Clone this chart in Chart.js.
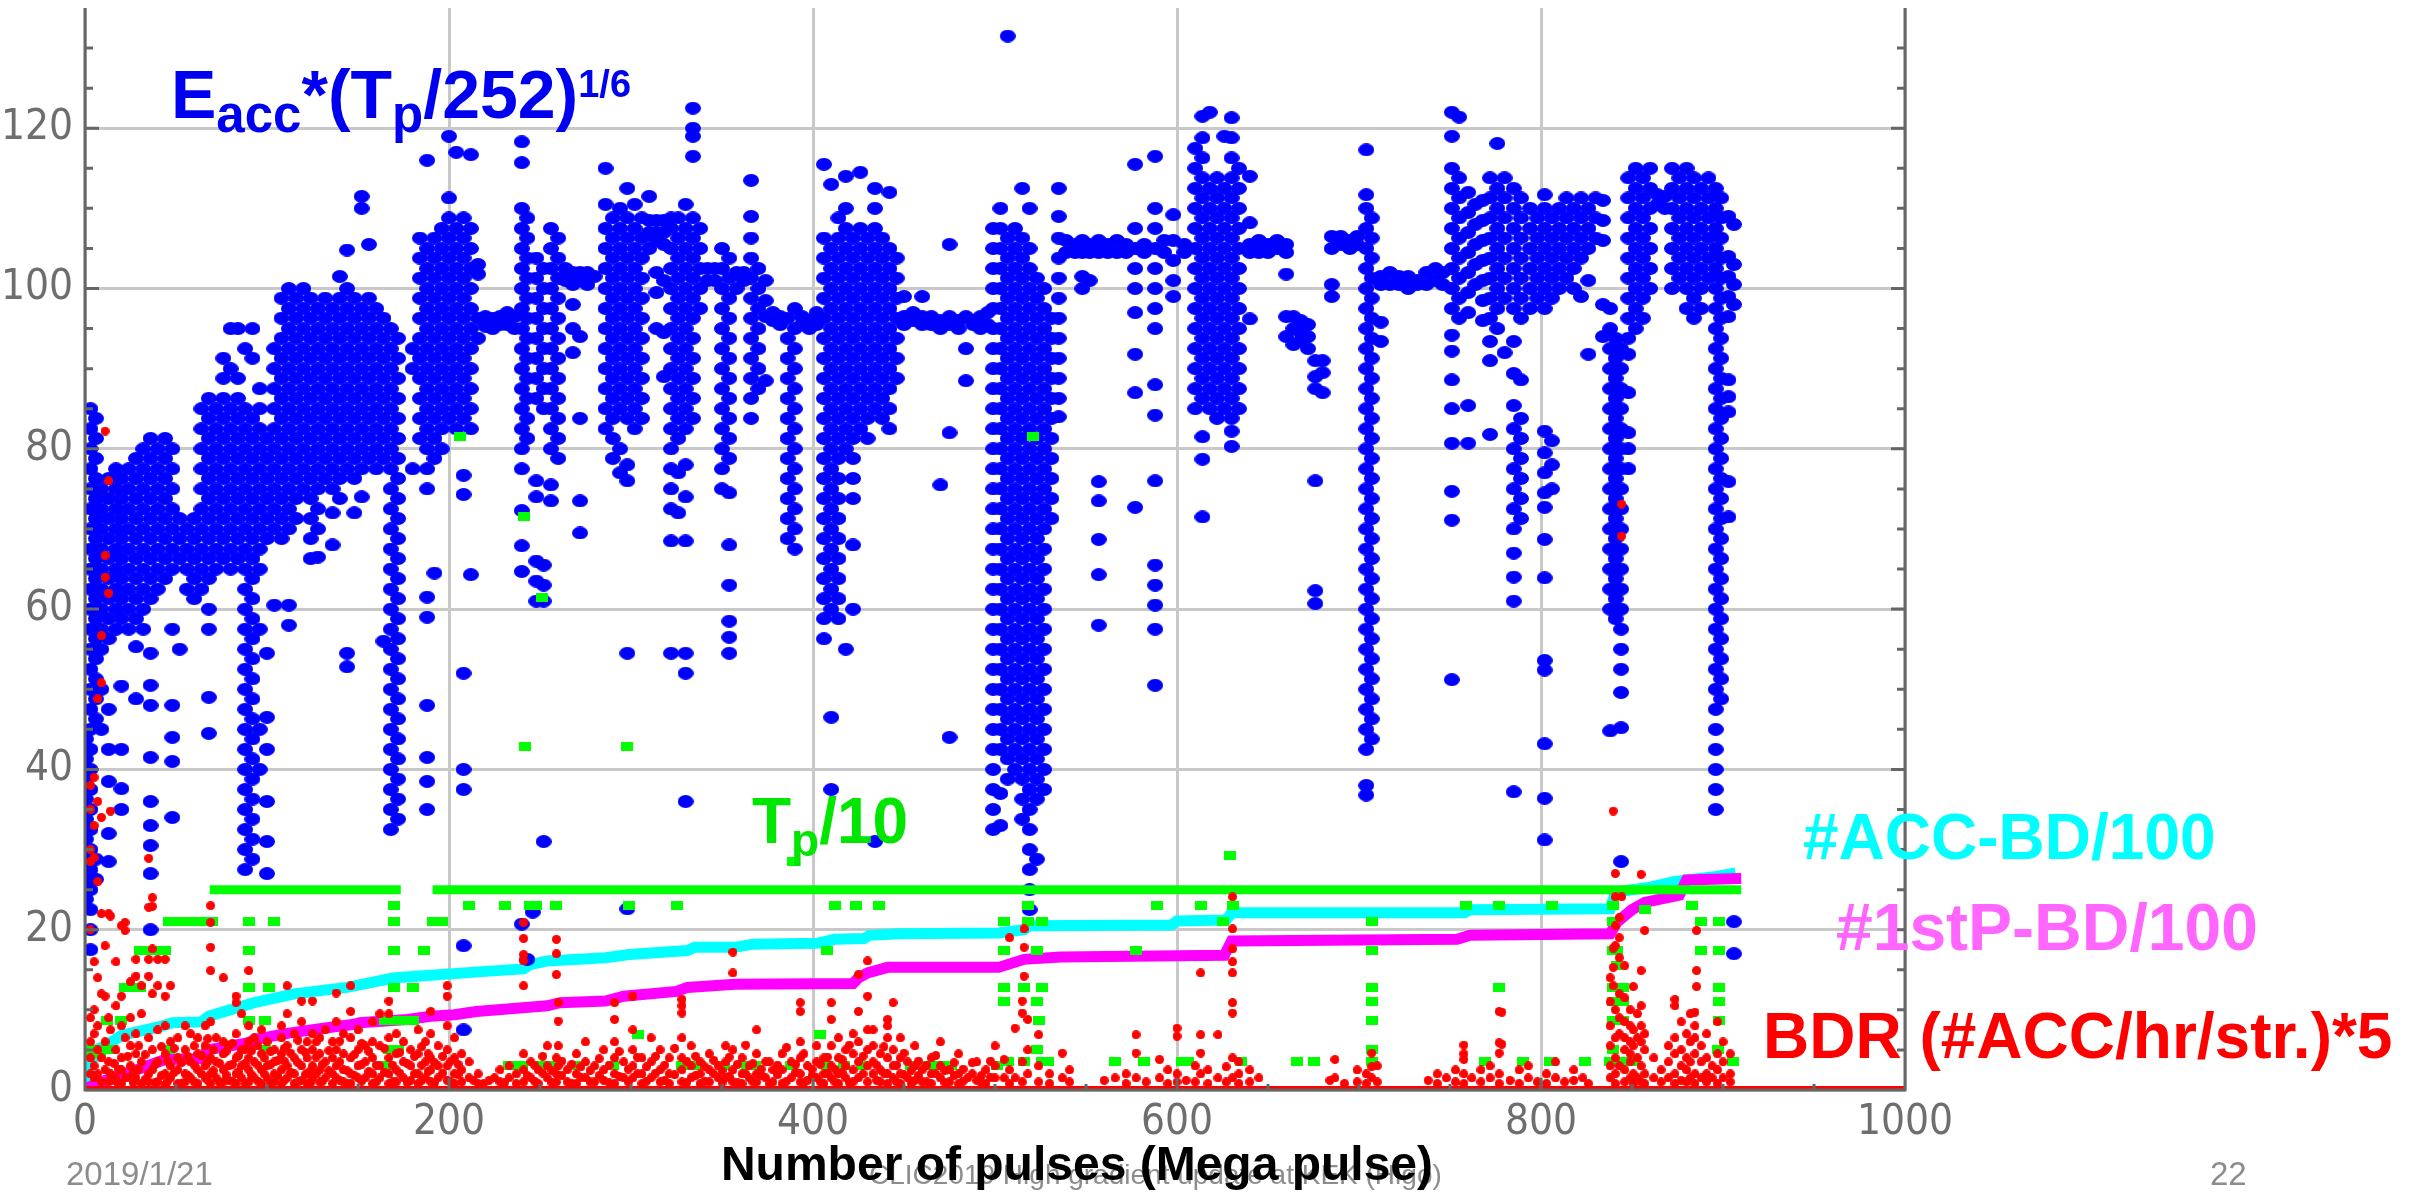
<!DOCTYPE html>
<html>
<head>
<meta charset="utf-8">
<script src="https://cdn.jsdelivr.net/npm/chart.js@4.4.1/dist/chart.umd.min.js"></script>
<style>
  html, body { margin: 0; padding: 0; background: #fff; overflow: hidden; }
</style>
</head>
<body>
<canvas id="myChart" width="2412" height="1192"></canvas>
<script>
// Eacc*(Tp/252)^1/6 : columns of [x, y, y, ...]
const eaccCols1 = [
  [0.5, 43.8, 41.3, 38.8, 36.3, 33.8, 31.3, 28.8, 26.3, 23.8],
  [3, 85, 82.5, 80, 77.5, 75, 72.5, 70, 67.5, 65, 62.5, 60, 57.5, 55, 52.5, 50, 47.5, 45, 42.5, 40, 37.5, 35, 32.5, 30, 27.5, 25, 22.5, 20, 17.5],
  [6, 83.8, 81.3, 78.8, 76.3, 73.8, 71.3, 68.8, 66.3, 63.8, 61.3, 58.8, 56.3, 53.8, 51.3, 48.8, 46.3, 28.8, 26.3],
  [9, 75, 72.5, 70, 67.5, 65, 62.5, 60, 57.5, 55, 50, 45],
  [13, 76.3, 73.8, 71.3, 68.8, 66.3, 63.8, 61.3, 58.8, 56.3, 47.5, 42.5, 38.5, 32, 28.5],
  [17, 77.5, 75, 72.5, 70, 67.5, 65, 62.5, 60, 57.5],
  [20, 76.3, 73.8, 71.3, 68.8, 66.3, 63.8, 61.3, 58.8, 50.4, 42.5, 37.6, 35],
  [24, 77.5, 75, 72.5, 70, 67.5, 65, 62.5, 60, 57.5],
  [28, 78.8, 76.3, 73.8, 71.3, 68.8, 66.3, 63.8, 61.3, 58.8, 55.3, 48.8],
  [32, 80, 77.5, 75, 72.5, 70, 67.5, 65, 62.5, 60, 57.5],
  [36, 81.3, 78.8, 76.3, 73.8, 71.3, 68.8, 66.3, 63.8, 61.3, 54.5, 50.5, 48, 41.5, 36, 33, 30.5, 27, 20],
  [40, 80, 77.5, 75, 72.5, 70, 67.5, 65, 62.5],
  [44, 81.3, 78.8, 76.3, 73.8, 71.3, 68.8, 66.3, 63.8],
  [48, 80, 77.5, 75, 72.5, 70, 67.5, 65, 57.5, 48, 44, 41, 34],
  [52, 71.3, 68.8, 66.3, 55],
  [56, 70, 67.5, 65, 62.5],
  [60, 71.3, 68.8, 66.3, 63.8, 61.3],
  [64, 85, 82.5, 80, 77.5, 75, 72.5, 70, 67.5, 65, 62.5],
  [68, 86.3, 83.8, 81.3, 78.8, 76.3, 73.8, 71.3, 68.8, 66.3, 63.8, 60, 57.5, 49, 44.5],
  [72, 85, 82.5, 80, 77.5, 75, 72.5, 70, 67.5, 65],
  [76, 91.3, 88.8, 86.3, 83.8, 81.3, 78.8, 76.3, 73.8, 71.3, 68.8, 66.3],
  [80, 95, 90, 85, 82.5, 80, 77.5, 75, 72.5, 70, 67.5, 65],
  [84, 95, 88.8, 86.3, 83.8, 81.3, 78.8, 76.3, 73.8, 71.3, 68.8, 66.3],
  [88, 92.5, 85, 82.5, 80, 77.5, 75, 72.5, 70, 67.5, 65, 62.5, 60, 57.5, 55, 52.5, 50, 47.5, 45, 42.5, 40, 37.5, 35, 32.5, 30, 27.5],
  [92, 95, 91.3, 83.8, 81.3, 78.8, 76.3, 73.8, 71.3, 68.8, 66.3, 63.8, 61.3, 58.8, 56.3, 53.8, 51.3, 48.8, 46.3, 43.8, 41.3, 38.8, 36.3, 33.8, 31.3, 28.8],
  [96, 87.5, 85, 82.5, 80, 77.5, 75, 72.5, 70, 67.5, 65, 57.5, 45, 40],
  [100, 81.3, 78.8, 76.3, 73.8, 71.3, 68.8, 54.5, 46.5, 42.5, 36, 31, 27],
  [104, 92.5, 90, 87.5, 85, 82.5, 80, 77.5, 75, 72.5, 70, 60.5],
  [108, 98.8, 96.3, 93.8, 91.3, 88.8, 86.3, 83.8, 81.3, 78.8, 76.3, 73.8, 71.3, 68.8],
  [112, 100, 97.5, 95, 92.5, 90, 87.5, 85, 82.5, 80, 77.5, 75, 72.5, 70, 60.5, 58],
  [116, 98.8, 96.3, 93.8, 91.3, 88.8, 86.3, 83.8, 81.3, 78.8, 76.3, 73.8, 71.3],
  [120, 100, 97.5, 95, 92.5, 90, 87.5, 85, 82.5, 80, 77.5, 75],
  [124, 98.8, 96.3, 93.8, 91.3, 88.8, 86.3, 83.8, 81.3, 78.8, 76.3, 73.8, 71.3, 68.8, 66.3],
  [128, 97.5, 95, 92.5, 90, 87.5, 85, 82.5, 80, 77.5, 75, 72.5, 70, 66.5],
  [132, 98.8, 96.3, 93.8, 91.3, 88.8, 86.3, 83.8, 81.3, 78.8, 76.3],
  [136, 97.5, 95, 92.5, 90, 87.5, 85, 82.5, 80, 77.5, 75, 72, 68],
  [140, 101.5, 98.8, 96.3, 93.8, 91.3, 88.8, 86.3, 83.8, 81.3, 78.8, 76.3, 73.8],
  [144, 104.8, 100, 97.5, 95, 92.5, 90, 87.5, 85, 82.5, 80, 77.5, 54.5, 52.8],
  [148, 98.8, 96.3, 93.8, 91.3, 88.8, 86.3, 83.8, 81.3, 78.8, 76.3, 72],
  [152, 111.5, 110, 97.5, 95, 92.5, 90, 87.5, 85, 82.5, 80, 77.5, 74],
  [156, 105.5, 98.8, 96.3, 93.8, 91.3, 88.8, 86.3, 83.8, 81.3, 78.8],
  [160, 97.5, 95, 92.5, 90, 87.5, 85, 82.5, 80, 77.5],
  [164, 96.3, 93.8, 91.3, 88.8, 86.3, 83.8, 81.3, 78.8, 56],
  [168, 95, 92.5, 90, 87.5, 85, 82.5, 80, 77.5, 75, 72.5, 70, 67.5, 65, 62.5, 60, 57.5, 55, 52.5, 50, 47.5, 45, 42.5, 40, 37.5, 35, 32.5],
  [172, 93.8, 91.3, 88.8, 86.3, 83.8, 81.3, 78.8, 76.3, 73.8, 71.3, 68.8, 66.3, 63.8, 61.3, 58.8, 56.3, 53.8, 51.3, 48.8, 46.3, 43.8, 41.3, 38.8, 36.3, 33.8]
];
const eaccCols2 = [
  [180, 92.5, 90, 77.5],
  [184, 106.3, 103.8, 101.3, 98.8, 96.3, 93.8, 91.3, 88.8, 86.3, 83.8, 81.3],
  [188, 116, 105, 102.5, 100, 97.5, 95, 92.5, 90, 87.5, 85, 82.5, 80, 77.5, 75, 61.5, 59, 48, 41.5, 38.5, 35],
  [192, 106.3, 103.8, 101.3, 98.8, 96.3, 93.8, 91.3, 88.8, 86.3, 83.8, 81.3, 78.8, 64.5],
  [196, 107.5, 105, 102.5, 100, 97.5, 95, 92.5, 90, 87.5, 85, 82.5, 80],
  [200, 119, 111.3, 108.8, 106.3, 103.8, 101.3, 98.8, 96.3, 93.8, 91.3, 88.8, 86.3, 83.8],
  [204, 117, 107.5, 105, 102.5, 100, 97.5, 95, 92.5, 90, 87.5, 85, 82.5],
  [208, 108.8, 106.3, 103.8, 101.3, 98.8, 96.3, 93.8, 91.3, 88.8, 86.3, 83.8, 76.7, 74.3, 52, 40, 37.5, 18, 7.5],
  [212, 116.7, 107.5, 105, 102.5, 100, 97.5, 95, 92.5, 90, 87.5, 85, 82.5, 64.3],
  [216, 103, 101.8, 96.3, 93.8],
  [220, 96.5, 95.3], [224, 96.3, 95], [228, 96.5, 95.5], [232, 97, 95.5], [236, 96.5, 95],
  [240, 118.3, 115.7, 110, 107.5, 105, 102.5, 100, 97.5, 95, 92.5, 90, 87.5, 85, 82.5, 80, 77.5, 72.3, 67.9, 64.7, 20.7],
  [243, 108.8, 106.3, 103.8, 101.3, 98.8, 96.3, 93.8, 91.3, 88.8, 86.3, 83.8, 81.3, 16.3],
  [246, 22.2],
  [248, 103.8, 101.3, 98.8, 96.3, 93.8, 91.3, 88.8, 86.3, 76, 74, 66, 63.5, 61],
  [252, 102.5, 100, 97.5, 95, 92.5, 90, 87.5, 85, 65.5, 63, 61, 31],
  [256, 107.5, 105, 102.5, 100, 97.5, 95, 92.5, 90, 87.5, 85, 82.5, 80, 75.5, 73.5],
  [260, 106.3, 103.8, 101.3, 98.8, 96.3, 93.8, 91.3, 88.8, 86.3, 83.8, 81.3, 78.8],
  [264, 102.5, 101],
  [268, 102, 100.5, 98, 95, 92],
  [272, 102, 101, 94, 83.8, 73.5, 69.5],
  [276, 102, 100.5],
  [280, 101.5],
  [286, 115, 110.5, 107.5, 105, 102.5, 100, 97.5, 95, 92.5, 90, 87.5, 85, 82.5],
  [290, 108.8, 106.3, 103.8, 101.3, 98.8, 96.3, 93.8, 91.3, 88.8, 86.3, 83.8, 81.3, 78.8],
  [294, 110, 107.5, 105, 102.5, 100, 97.5, 95, 92.5, 90, 87.5, 85, 80, 77],
  [298, 112.5, 108.8, 106.3, 103.8, 101.3, 98.8, 96.3, 93.8, 91.3, 88.8, 86.3, 83.8, 78, 76, 54.5, 22.6],
  [302, 110.5, 107.5, 105, 102.5, 100, 97.5, 95, 92.5, 90, 87.5, 85, 82.5],
  [306, 108.8, 106.3, 103.8, 101.3, 98.8, 96.3, 93.8, 91.3, 88.8, 86.3, 83.8],
  [310, 111.5, 108.5, 107, 105],
  [314, 108.5, 107, 106, 102, 99.5, 95],
  [318, 108.5, 107, 105.5, 101, 94.5, 89],
  [322, 108.8, 107.5, 105, 102.5, 100, 97.5, 95, 92.5, 90, 87.5, 85, 82.5, 80, 77.5, 75, 72.5, 68.5, 54.5],
  [326, 108.8, 106.3, 103.8, 101.3, 98.8, 96.3, 93.8, 91.3, 88.8, 86.3, 83.8, 81.3, 77, 72],
  [330, 110.5, 107.5, 105, 102.5, 100, 97.5, 95, 92.5, 90, 87.5, 85, 82.5, 78, 74, 68.5, 54.5, 52, 36],
  [334, 122.5, 120, 119, 116.5, 108.8, 106.3, 103.8, 101.3, 98.8, 96.3, 93.8, 91.3, 88.8, 86.3, 83.8],
  [338, 107.5, 105, 102.5, 100, 97.5],
  [342, 102.5, 101], [346, 102.5, 101],
  [350, 105, 102.5, 100, 97.5, 95, 92.5, 90, 87.5, 85, 82.5, 80, 77.5, 75],
  [354, 103.8, 101.3, 98.8, 96.3, 93.8, 91.3, 88.8, 86.3, 83.8, 81.3, 78.8, 74.5, 68, 63, 58.5, 56.5, 54.5],
  [358, 102, 100], [362, 102, 101],
  [366, 113.5, 109, 106.3, 103.8, 101.3, 98.8, 96.3, 93.8, 91.3, 88.8, 86.3, 83.8],
  [370, 102.5, 100, 97.5, 95, 92.5, 90, 87.5],
  [374, 101, 98.5, 96.5, 88.5],
  [378, 97, 96], [382, 96.5, 95.5],
  [386, 96.3, 93.8, 91.3, 88.8, 86.3, 83.8, 81.3, 78.8, 76.3, 73.8, 71.3, 68.8],
  [390, 97.5, 95, 92.5, 90, 87.5, 85, 82.5, 80, 77.5, 75, 72.5, 70, 67.5],
  [394, 96.5, 95.5], [398, 96, 95], [402, 97, 95.5]
];
const eaccCols3 = [
  [406, 115.5, 106.3, 103.8, 101.3, 98.8, 96.3, 93.8, 91.3, 88.8, 86.3, 83.8, 81.3, 78.8, 76.3, 73.8, 71.3, 68.8, 66.3, 63.8, 61.3, 58.8, 56.3],
  [410, 113, 105, 102.5, 100, 97.5, 95, 92.5, 90, 87.5, 85, 82.5, 80, 77.5, 75, 72.5, 70, 67.5, 65, 62.5, 60, 46.5, 37.5],
  [414, 108.8, 106.3, 103.8, 101.3, 98.8, 96.3, 93.8, 91.3, 88.8, 86.3, 83.8, 81.3, 78.8, 76.3, 73.8, 71.3, 68.8, 66.3, 63.8, 61.3, 58.8],
  [418, 114, 110, 107.5, 105, 102.5, 100, 97.5, 95, 92.5, 90, 87.5, 85, 82.5, 80, 55],
  [422, 106.3, 103.8, 101.3, 98.8, 96.3, 93.8, 91.3, 88.8, 86.3, 83.8, 81.3, 78.8, 76.3, 73.8, 68, 60],
  [426, 114.5, 107.5, 105, 102.5, 100, 97.5, 95, 92.5, 90, 87.5, 85, 82.5],
  [430, 106.3, 103.8, 101.3, 98.8, 96.3, 93.8, 91.3, 88.8, 86.3, 83.8, 81.3],
  [434, 112.5, 110, 107.5, 105, 102.5, 100, 97.5, 95, 92.5, 90, 87.5, 85, 31],
  [438, 106.3, 103.8, 101.3, 98.8, 96.3, 93.8, 91.3, 88.8, 86.3, 83.8],
  [442, 112, 105, 102.5, 100, 97.5, 95, 92.5, 90, 87.5, 85, 82.5],
  [446, 103.8, 101.3, 98.8, 96.3, 93.8, 91.3, 88.8],
  [450, 99, 96.5, 95.5], [455, 97, 96], [460, 99, 96.5, 95.5], [465, 96.5, 95.5],
  [470, 96, 95, 75.5], [475, 105.5, 96.5, 95.5, 82, 44], [480, 96, 95],
  [484, 96.5, 92.5, 88.5], [488, 96, 95.5], [492, 96.5, 95], [496, 97, 95.5],
  [499, 107.5, 105, 102.5, 100, 97.5, 95, 92.5, 90, 87.5, 85, 82.5, 80, 77.5, 75, 72.5, 70, 67.5, 65, 62.5, 60, 57.5, 55, 52.5, 50, 47.5, 45, 42.5, 40, 37.5, 35, 32.5],
  [503, 110, 107.5, 105, 102.5, 100, 97.5, 95, 92.5, 90, 87.5, 85, 82.5, 80, 77.5, 75, 72.5, 70, 67.5, 65, 62.5, 60, 57.5, 55, 52.5, 50, 47.5, 45, 42.5, 37, 33],
  [507, 131.5, 106.3, 103.8, 101.3, 98.8, 96.3, 93.8, 91.3, 88.8, 86.3, 83.8, 81.3, 78.8, 76.3, 73.8, 71.3, 68.8, 66.3, 63.8, 61.3, 58.8, 56.3, 53.8, 51.3, 48.8, 46.3, 43.8, 41.3, 38.8],
  [511, 107.5, 105, 102.5, 100, 97.5, 95, 92.5, 90, 87.5, 85, 82.5, 80, 77.5, 75, 72.5, 70, 67.5, 65, 62.5, 60, 57.5, 55, 52.5, 50, 47.5, 45, 42.5, 40],
  [515, 112.5, 106.3, 103.8, 101.3, 98.8, 96.3, 93.8, 91.3, 88.8, 86.3, 83.8, 81.3, 78.8, 76.3, 73.8, 71.3, 68.8, 66.3, 63.8, 61.3, 58.8, 56.3, 53.8, 51.3, 48.8, 46.3, 43.8, 41.3, 38.8, 36.3, 33.8],
  [519, 110, 105, 102.5, 100, 97.5, 95, 92.5, 90, 87.5, 85, 82.5, 80, 77.5, 75, 72.5, 70, 67.5, 65, 62.5, 60, 57.5, 55, 52.5, 50, 47.5, 45, 42.5, 40, 37.5, 35, 32.5, 30, 27.5, 25, 22.5],
  [523, 101.3, 98.8, 96.3, 93.8, 91.3, 88.8, 86.3, 83.8, 81.3, 78.8, 76.3, 73.8, 71.3, 68.8, 66.3, 63.8, 61.3, 58.8, 56.3, 53.8, 51.3, 48.8, 46.3, 43.8, 41.3, 38.8, 36.3, 28.8],
  [527, 100, 97.5, 95, 92.5, 90, 87.5, 85, 82.5, 80, 77.5, 75, 72.5, 70, 67.5, 65, 62.5, 60, 57.5, 55, 52.5, 50, 47.5, 45, 42.5, 40, 37.5],
  [531, 96.3, 93.8, 91.3, 88.8, 86.3, 83.8, 81.3, 78.8, 76.3, 73.8, 71.3],
  [535, 112.5, 109, 106.3, 103.8, 101.3, 98.8, 96.3, 93.8, 91.3, 88.8, 86.3, 84],
  [539, 106, 104.5], [544, 105.5, 104.5], [548, 106, 104.5, 101.5, 100], [552, 105.5, 104.5, 101],
  [557, 106, 104.5, 75.9, 73.5, 68.7, 64.3, 58], [562, 105.5, 104.5], [567, 106, 104.5], [572, 105.5, 104.5],
  [577, 115.5, 107.5, 105, 102.5, 100, 97, 91.8, 87, 72.7], [582, 105.5, 104.5],
  [588, 116.5, 110, 107.5, 105, 102.5, 100, 97.5, 95, 88, 84.2, 76, 65.5, 63, 60.5, 57.5, 50.5],
  [593, 106, 104.5], [598, 109.2, 106, 103.5, 101, 99], [604, 105.5, 104.5]
];
const eaccCols4 = [
  [610, 117.5, 115, 112.5, 110, 107.5, 105, 102.5, 100, 97.5, 95, 92.5, 90, 87.5, 85],
  [614, 121.5, 118.8, 116.3, 113.8, 111.3, 108.8, 106.3, 103.8, 101.3, 98.8, 96.3, 93.8, 91.3, 88.8, 86.3, 81.5, 78.7, 71.5],
  [618, 122, 112.5, 110, 107.5, 105, 102.5, 100, 97.5, 95, 92.5, 90, 87.5, 85],
  [622, 113.8, 111.3, 108.8, 106.3, 103.8, 101.3, 98.8, 96.3, 93.8, 91.3, 88.8, 86.3, 83.8],
  [626, 119, 112.5, 110, 107.5, 105, 102.5, 100, 97.5, 95, 92.5, 90, 87.5, 85],
  [630, 121.3, 118.8, 116.3, 113.8, 111.3, 108.8, 106.3, 103.8, 101.3, 98.8, 96.3, 93.8, 91.3, 88.8, 86.3, 83.8, 82.2, 80.3],
  [634, 115, 112.5, 110, 107.5, 105, 102.5, 100, 97.5, 95, 92.5, 90, 87.5, 85],
  [640, 114, 108.2, 105.5, 104.5, 96.2], [645, 106, 104.5], [650, 105.5, 104.5], [655, 106, 105],
  [660, 105.5, 104.5, 101.8, 96.5, 94], [664, 96.5, 95, 93], [668, 96, 94.5, 93.5], [672, 95.5, 94, 92.5],
  [676, 91, 89, 87.5, 76, 62.3, 60.7], [680, 91, 89.5, 87], [685, 106.5, 105, 100.5, 99],
  [690, 106.5, 105.5], [695, 106, 105], [699, 106.5, 105.5],
  [704, 117.3, 111.7, 110, 107.5, 105, 102.5, 100, 97.5, 95, 92.5, 90, 87.5, 85, 82.5, 80, 77.5, 75, 72.5, 70, 67.5, 65, 62.5, 60, 57.5, 55, 52.5, 50, 47.5, 45, 42.5, 38, 36.8],
  [707, 108.8, 106.3, 103.8, 101.3, 98.8, 96.3, 93.8, 91.3, 88.8, 86.3, 83.8, 81.3, 78.8, 76.3, 73.8, 71.3, 68.8, 66.3, 63.8, 61.3, 58.8, 56.3, 53.8, 51.3, 48.8, 46.3, 43.8],
  [712, 101.5, 100.5, 95.8, 93.4], [717, 102, 100.5], [722, 101.5, 100.5], [727, 101.5, 100],
  [732, 101, 100.5], [737, 102, 100.5], [742, 102.5, 101], [746, 102, 100.5],
  [751, 122, 119, 115, 112.5, 110, 107.5, 105, 102.5, 100, 97.5, 94.2, 92.2, 88.6, 85, 80.7, 74.7, 71.1, 51.2],
  [755, 121.4, 113.8, 111.3, 108.8, 106.3, 103.8, 101.3, 98.8, 96.3],
  [760, 112, 109.5, 107, 104.5, 102, 99.5, 97, 85.4, 80.7],
  [764, 110.5, 108, 105.5, 103, 100.5],
  [768, 111, 108.5, 106, 103.5, 101, 98.5, 96],
  [772, 113.8, 111.3, 108.8, 106.3, 103.8, 101.3, 98.8, 96.3, 93.4, 91, 81.8],
  [776, 118.1, 112.5, 110, 107.5, 105, 102.5, 100, 97.5, 95],
  [780, 113.8, 111.3, 108.8, 106.3, 103.8, 101.3, 98.8, 92],
  [785, 112.5, 110, 107.5, 105, 102.5, 100, 97.5, 93.4, 89.4, 85.4, 82.5, 80, 77.5, 75, 72.5, 70, 67, 64, 61, 37.2],
  [789, 111.3, 108.8, 106.3, 103.8, 101.3, 98.8, 96.3, 88.6, 83.8, 81.3, 78.8, 76.3, 73.8, 71.3],
  [794, 110, 107.5, 105, 102.5, 100, 97.5],
  [798, 108.8, 106.3, 103.8, 101.3, 98.8],
  [802, 111.7, 110, 107.5, 105, 102.5, 100, 97.5, 82.2, 79.5, 77, 74.5, 72.7, 68.7, 63.9, 53.6, 52.4, 43.2, 36.4, 31.2],
  [806, 108.8, 106.3, 103.8, 101.3, 98.8, 81, 78, 75],
  [810, 110, 107.5, 105, 102.5, 100],
  [814, 111.3, 108.8, 106.3, 103.8, 101.3],
  [818, 110, 107.5, 105, 102.5, 100],
  [822, 111.3, 108.8, 106.3, 103.8, 99],
  [826, 110, 107.5, 105, 101, 91.8],
  [830, 111.3, 108.8, 106.3],
  [834, 111, 108.5, 106, 98, 94],
  [838, 97.5, 95, 92.5, 90, 87.5, 85, 82.5, 80, 77.5, 75, 72.5, 70, 67.5, 65, 62.5, 60, 44.8],
  [841, 93.8, 91.3, 88.8, 86.3, 83.8, 81.3, 78.8, 76.3, 73.8, 71.3, 68.8, 66.3, 63.8, 61.3, 58.8],
  [844, 92.5, 90, 87.5, 85, 82.5, 80, 77.5, 75, 72.5, 70, 67.5, 65, 62.5, 60, 57.5, 55, 52.5, 49.6, 45.2, 28.5],
  [848, 113.8, 111.3, 108.8, 106.3, 103.8, 101.3, 98.8, 96.3, 93.8, 91.8, 87, 82, 80, 77.5],
  [852, 115, 112.5, 110, 107.5, 105, 102.5, 100, 97.5, 95],
  [856, 113.8, 111.3, 108.8, 106.3, 103.8, 101.3, 98.8, 96.3],
  [860, 115, 112.5, 110, 107.5, 105, 102.5, 100],
  [864, 111.7, 110.5], [868, 111.5, 110],
  [872, 115, 112.5, 110, 107.5, 105, 102.5, 100],
  [876, 113.8, 111.3, 108.8, 106.3, 103.8, 101.3],
  [880, 115, 112.5, 110, 107.5, 105, 102.5, 100, 97.5],
  [884, 113.8, 111.3, 108.8, 106.3, 103.8, 101.3, 98.8, 96.3],
  [888, 112.5, 110, 107.5, 105, 102.5, 100, 97.5],
  [892, 113.8, 111.3, 108.8, 106.3, 103.8, 101.3],
  [896, 112.5, 110, 107.5, 105, 102.5, 100, 97.5, 95, 92.5, 90, 87.5, 85, 82.5, 80, 77.5, 75, 72.5, 70, 67.5, 65, 62.5, 60, 57.5, 55, 52.5, 50, 47.5, 45, 42.5, 40, 37.5, 35],
  [899, 111.3, 108.8, 106.3, 103.8, 101.3, 98.8, 96.3, 93.8, 91.3, 88.8, 86.3, 83.8, 81.3, 78.8, 76.3, 73.8, 71.3, 68.8, 66.3, 63.8, 61.3, 58.8, 56.3, 53.8, 51.3, 48.8],
  [903, 109, 104, 101.5, 99, 96.5, 88.6, 86.5, 84.6, 75.9, 71.5],
  [906, 108, 103, 100.5, 98, 21, 17]
];

// Tp/10 : main level segments [xStart, xEnd, y] and scattered columns
const tpBand = [[68.5, 173.5, 25], [191, 910, 25]];
const tpCols = [
  [0.5, 5, 4.5], [4, 5], [8, 5, 4.5], [12, 8.7, 5], [15, 5], [20, 8.7], [22, 12.8], [26, 12.8],
  [30, 17.4, 12.8], [33, 17.4], [38, 17.4], [44, 17.4], [46, 21, 5], [50, 21], [55, 21], [60, 21],
  [65, 21], [70, 21], [90, 21, 17.4, 12.8, 8.7], [99, 8.7, 5], [101, 12.8], [104, 21],
  [165, 8.7, 3.1], [167, 5], [170, 23, 21, 17.4, 12.8, 8.7], [172, 5], [175, 8.7], [180, 12.8, 8.7],
  [186, 17.4], [191, 21], [196, 21], [206, 81.5], [211, 23], [231, 23], [233, 3.1], [237, 3.1],
  [240, 3.1], [241, 71.5], [242, 42.8], [244.5, 23], [248, 23], [251, 61.5, 3.1], [254, 3.1],
  [257, 3.1], [259, 23], [270, 3.1], [290, 3.1], [298, 42.8], [299, 23], [304, 6.9], [325, 23],
  [328, 3.1], [333, 3.1], [338, 3.1], [351, 3.1], [364, 3.1], [368, 3.1], [388, 3.1], [389, 28.5],
  [404, 6.9], [407.5, 17.4, 3.1], [412, 23], [417, 3.1], [423.5, 23], [427, 3.1], [436.5, 23],
  [454, 3.1], [460, 3.1], [466, 3.1], [471, 3.1], [476, 3.1], [501, 3.1],
  [505, 21, 17.4, 12.8, 11], [507, 3.5], [516, 12.8, 3.5], [518, 23, 21], [521, 81.5],
  [523, 17.4, 11, 5], [524, 8.7], [526, 21, 12.8, 3.5], [529, 3.5], [566, 3.5], [577.5, 17.4],
  [582, 3.5], [589, 23], [603, 3.5], [606, 3.5], [613, 23], [625, 21], [629, 29.2], [630.5, 23],
  [635, 3.5], [666, 3.5], [675.5, 3.5], [707, 21, 17.4, 12.8, 11, 8.7, 5, 3.5], [759, 23],
  [769, 3.5], [777, 23, 12.8], [790, 3.5], [805, 3.5], [806, 23], [824, 3.5], [838, 3.5],
  [839.5, 23, 21, 17.4, 12.8, 11, 8.7, 5, 3.5], [842, 17.4, 15.5, 3.5], [845, 12.8, 11, 8.7, 3.5],
  [851, 3.5], [857, 22.5], [883, 23], [888, 21, 17.4], [897, 5], [898, 21, 17.4, 12.8, 11, 8.7],
  [905.5, 3.5]
];

// #ACC-BD/100 and #1stP-BD/100 : [x, y]
const accBD = [
  [0, 0], [3, 3], [6, 5], [12, 5.6], [20, 6.8], [41, 7.9], [48, 8.4], [64, 8.5], [68, 9.2],
  [93, 10.9], [115, 12], [144, 12.8], [170, 14], [196, 14.4], [220, 14.8], [241, 15.1],
  [244, 15.6], [254, 16.1], [286, 16.5], [299, 16.9], [331, 17.4], [335, 17.8], [357, 17.8],
  [367, 18.2], [402, 18.3], [412, 18.8], [428, 18.9], [431, 19.3], [448, 19.5], [502, 19.6],
  [516, 20], [519, 20.5], [597, 20.6], [600, 21.1], [627, 21.2], [630, 22.1], [758, 22.1],
  [761, 22.5], [838, 22.6], [841, 24.7], [860, 25.3], [873, 26], [895, 26.6], [907, 27.1]
];
const firstPBD = [
  [0, 0.2], [5, 0.6], [12, 1.3], [28, 2.5], [44, 3.8], [64, 3.9], [66, 4.6], [67, 5], [90, 5.9],
  [93, 6.3], [112, 7.1], [131, 7.7], [148, 8.2], [151, 8.4], [177, 8.8], [190, 9.2], [203, 9.4],
  [215, 9.8], [254, 10.5], [261, 10.9], [286, 11.1], [296, 11.7], [325, 12.3], [331, 12.8],
  [357, 13.2], [422, 13.3], [425, 14], [430, 14.6], [441, 15.3], [502, 15.3], [516, 16.3],
  [536, 16.6], [626, 16.8], [630, 18.6], [754, 18.8], [761, 19.3], [838, 19.5], [842, 21],
  [850, 22.5], [857, 23.4], [876, 24.3], [880, 26.2], [910, 26.4]
];

// BDR (#ACC/hr/str.)*5 : columns of [x, y, y, ...]
const bdrCols = [
  [3, 38, 35, 30, 28.5, 20, 9, 6, 4, 2], [5, 39, 33, 29, 16, 10, 7, 3, 1.5], [7, 48.8, 36, 26, 14, 8, 5, 2],
  [9, 56.7, 50.8, 34, 22, 12, 4, 1], [11, 82.2, 66.7, 64, 18, 11.7, 6, 2.5], [13, 76, 62, 22, 9, 3.5, 1],
  [14, 34.8, 21.7, 7.5, 2], [17, 16, 10.5, 5, 1.5], [20, 20.5, 11.7, 8, 4, 2.5, 0.8], [22, 20.9, 19.9, 6.5, 1.5],
  [25, 13.5, 9, 5.5, 3], [28, 16.3, 14.2, 7, 4.5, 1.5], [31, 13, 9.5, 3.5, 0.8], [35, 28.9, 22.8, 16.3, 14.2, 6.5, 2, 1],
  [37, 24, 22.9, 17.6, 12, 5, 2.5], [40, 16.3, 13, 7.5, 3.5, 1], [44, 16.3, 11.7, 8, 4.5, 2, 0.7], [47, 13, 6, 3, 1.5],
  [51, 6.5, 4, 2.5, 0.8], [55, 8, 5, 2, 1], [58, 7, 3.5, 1.5], [62, 6.5, 4.5, 2.5, 0.8], [66, 8, 5.5, 3, 1.5],
  [69, 23, 20.9, 17.8, 14.9, 8.5, 4, 2, 0.8], [72, 6.5, 3.5, 1.5], [76, 14, 6, 4.5, 2.5, 1], [79, 5.5, 3, 1.2],
  [83, 11.7, 10.9, 7, 4, 2, 0.8], [86, 9.5, 5, 3, 1.5], [90, 14.9, 8, 6, 4, 2.5, 1], [93, 6.5, 3.5, 1.5],
  [97, 7.5, 4.5, 2.5, 0.8], [100, 6, 3, 1.5], [104, 5, 3.5, 2, 1], [108, 8, 6.5, 4.5, 2.5, 0.8],
  [111, 13, 9.5, 5.5, 3, 1.5], [115, 7, 4, 2, 0.8], [119, 11.1, 8.5, 5, 3, 1.2], [122, 6, 4, 2, 0.8],
  [125, 11.1, 7, 5, 3, 1.5], [129, 6.5, 4.5, 2.5, 1], [132, 7.5, 3.5, 1.5], [136, 6, 4, 2, 0.8],
  [138, 12.1, 8.5, 5, 3, 1.5], [142, 7, 4.5, 2.5, 1], [146, 13, 9.8, 6.5, 4, 2, 0.8], [150, 7.5, 5, 3, 1.5],
  [154, 5.5, 3.5, 1.5], [158, 8.5, 6, 4, 2, 0.8], [162, 9.5, 5.5, 3, 1.5], [167, 11.1, 9.5, 6.5, 4, 2, 0.8],
  [171, 7, 4.5, 2.5, 1], [175, 6, 3.5, 1.5], [179, 5, 3, 1.2], [183, 7.5, 4.5, 2, 0.8], [187, 6, 3.5, 1.5],
  [190, 9.8, 7, 4, 2.5, 1], [194, 5.5, 3, 1.5], [199, 13, 11.7, 8, 5, 3, 1.2], [203, 6.5, 4, 2, 0.8],
  [207, 4.5, 2.5, 1], [211, 3.5, 1.5], [216, 2, 0.8], [222, 1.2], [228, 2.5, 1], [233, 3, 1.5], [237, 2, 0.8],
  [241, 20.9, 18.9, 16.9, 16.1, 13, 4.5, 2.5, 1], [245, 3.5, 1.5], [249, 2.5, 0.8], [254, 5.5, 3, 1.5],
  [259, 18.8, 17, 14.4, 4, 2, 1], [260, 10.9, 8.6, 5.5, 3], [265, 2.5, 1], [270, 4.5, 2, 0.8], [275, 6, 3.5, 1.5],
  [280, 3, 1], [285, 5, 2.5, 1.2], [291, 10.9, 8.8, 6, 4, 2, 0.8], [296, 3.5, 1.5], [301, 11.7, 7.5, 5, 3, 1.5],
  [306, 4, 2, 0.8], [311, 6.5, 3.5, 1.5], [316, 5, 2.5, 1], [321, 4, 2, 0.8], [328, 11.3, 10.5, 9.6, 6.5, 4, 2.5, 1],
  [333, 5.5, 3, 1.5], [338, 3.5, 2, 0.8], [343, 4.5, 2.5, 1], [348, 3, 1.5], [352, 5.5, 3.5, 1.5],
  [356, 17.2, 14.6, 5, 2.5, 1], [361, 4, 2, 0.8], [365, 3, 1.5], [369, 7.5, 4.5, 2, 1], [374, 3.5, 1.5],
  [378, 2.5, 1], [383, 4.5, 2.5, 0.8], [388, 3.5, 1.5], [393, 10.9, 9.8, 6, 4, 2, 1], [397, 3, 1.2],
  [402, 5.5, 3.5, 1.5], [406, 4, 2, 0.8], [410, 10.9, 8.8, 5.5, 3, 1.5], [414, 6.5, 4, 2, 0.8], [418, 5, 3, 1.5],
  [422, 7, 4.5, 2.5, 1], [425, 14.4, 9.8, 6, 3.5, 1.5], [430, 16.1, 11.7, 7.5, 5, 3, 1], [433, 7.5, 5.5, 3.5, 2],
  [437, 4.5, 2.5, 1], [441, 8.8, 8, 6.5, 4, 2, 0.8], [444, 10.9, 5, 3, 1.5], [448, 6.5, 4, 2, 0.8], [452, 3.5, 1.5],
  [456, 5.5, 3, 1.2], [460, 2.5, 1], [465, 4, 2, 0.8], [470, 6, 3, 1.5], [475, 2.5, 1], [480, 4.5, 2, 0.8],
  [485, 1.5], [490, 3.5, 1.2], [495, 2.5, 0.8], [500, 5.5, 3, 1.5],
  [505, 3.8, 1.5], [508, 19, 2.5, 0.8], [511, 7.7, 1.5], [515, 11.1, 9.6, 3.5, 1], [516, 20.1, 17.8, 14.2],
  [518, 8.8, 5, 2], [524, 6.9, 3, 1], [530, 2, 0.8], [537, 4.6, 1.5], [541, 2.5, 1], [560, 1.2], [566, 1.5],
  [572, 2, 0.8], [577.5, 6.9, 4.6, 1.5], [583, 1], [590.4, 3.8, 1.5], [595, 2.5, 0.8], [600, 7.7, 6.7, 2, 1],
  [605, 1.2], [610, 3, 1], [613, 14.6, 6.9, 4.6, 2], [617, 2.5, 0.8], [622.5, 6.9, 1.5], [627, 2.9, 1],
  [630.5, 24.1, 20.1, 17.6, 16, 14.6, 10.9, 9.6, 4, 1.5], [634, 3.5, 2, 0.8], [640, 2.5, 1], [645, 1.5],
  [684, 1.2], [686.8, 3.8, 1.5], [692, 0.8], [699, 2.5, 1], [704, 2, 0.8], [707, 4.6, 2.9, 1.5], [710, 3, 1],
  [738, 1.2], [743, 2, 0.8], [748, 1.5], [753, 2.5, 1], [757.6, 5.6, 4.5, 3.8, 2, 0.8], [762, 1.5],
  [767, 2.5, 1], [772, 3, 1.5], [777, 9.8, 5.9, 4.6, 2, 0.8], [778.5, 9.7, 5.7], [783, 1.2], [788, 2.5, 0.8],
  [793, 3, 1.5], [798, 1], [803, 2, 0.8], [808, 3.5, 1.5], [813, 1], [818, 2.5, 1.2], [823, 1.5], [826, 0.8],
  [838, 14, 11, 8, 5.5, 3, 1.5], [839.7, 34.8, 17.7, 15.3, 13], [840.8, 27, 24.1, 20.5, 18, 10, 6.5, 4, 2, 0.8],
  [843, 21.5, 19, 16.5, 12, 9, 7, 3], [844.3, 73.1, 69.1, 24.1], [846, 15.5, 11.5, 8.5, 6.5, 5, 2.5, 1],
  [849, 10, 8, 6, 4.5, 3.5, 1.5], [850.7, 12.9, 7.5, 5.5, 2, 0.8], [853, 9.5, 6.5, 4, 1.5],
  [855, 26.9, 14.9, 10.5, 8, 6, 3, 1], [857, 19.9, 7, 5, 2, 0.8], [862, 4, 1.5], [866, 2.5, 1],
  [870, 5.5, 3.5, 1.5], [873.6, 11.3, 10.5, 6.5, 4.5, 2, 0.8], [877, 8.5, 5, 3, 1.2], [880, 7, 4, 2.5, 1],
  [882, 9.5, 6, 3.5, 1.5], [884.6, 9.7, 8, 6.5, 4.5, 2, 0.8], [885.5, 19.9, 14.9, 12.9], [888, 5.5, 3.5, 1.5],
  [891, 7, 4, 2, 1], [894, 3, 1.5], [897, 8.5, 4.5, 2.5, 0.8], [900, 6, 3.5, 1.5], [904, 4.5, 2, 1]
];
// low BDR readings that fill the band just above zero
const bdrLowCols = [
  [16, 1.2, 3.3], [18.5, 0.7, 2.6], [23.5, 1.6, 4.2], [26.5, 0.9, 2.2], [29.5, 2.6, 5.5], [33, 1.3, 4.4],
  [38.5, 0.9, 3.2], [42, 1.8, 5.4], [45.5, 1.1, 3.6], [49, 2.2, 5.2], [53, 0.8, 3.4], [56.5, 1.8, 4.2],
  [60, 1, 3.1, 5.5], [64, 2, 4.3], [67.5, 1.2, 3.5, 6.4], [70.5, 2.4, 5], [74, 0.9, 3.3], [77.5, 1.9, 4.8],
  [81, 1.1, 3.2, 5.8], [84.5, 2.3, 4.3], [88, 0.8, 3.3, 5.1], [91.5, 1.9, 4.9], [95, 1.1, 3.1, 5.5],
  [98.5, 2, 4], [102, 0.9, 3.2, 4.8], [106, 1.8, 3.7], [109.5, 1.2, 3.6, 5.2], [113, 2.2, 4.6],
  [117, 1, 3.4, 6.2], [121, 1.9, 4.7], [124, 0.9, 2.4], [127, 2, 4.1, 6], [130.5, 1.1, 3.2],
  [134, 2.4, 4.9], [140, 1.2, 3.5, 6.1], [144, 0.8, 2.4], [148, 1.8, 4.4], [152, 1.1, 3.2, 5.8],
  [156, 2.3, 4.8], [160, 1, 3.1], [164.5, 2.2, 5.2], [169, 1, 3.1], [173, 2.1, 4.7], [177, 0.9, 3.3],
  [181, 2, 4.2], [185, 1.2, 3.1, 5.4], [188.5, 2.3, 4.5], [192, 0.9, 3.4], [196.5, 2.1, 4.2],
  [201, 1, 3.6], [205, 1.9, 3.2], [213.5, 1.2], [219, 0.8], [225, 1.5], [230.5, 0.9], [243, 1.8],
  [247, 1.1, 3.1], [251.5, 2.1, 4.2], [256.5, 0.9, 2.4], [262, 1.8, 3.6], [267.5, 0.8, 3.2],
  [272.5, 1.6, 2.9], [277.5, 1, 2.4], [282.5, 1.8, 3.9], [288, 0.9, 3.1], [293.5, 1.7, 4.8],
  [298.5, 1, 2.6], [303.5, 2, 4.1], [308.5, 1.1, 2.9], [313.5, 2.1, 4.2], [318.5, 1.2, 3.1],
  [324, 1.9, 5.2], [330.5, 0.9, 3.6], [335.5, 1.8, 4.2], [340.5, 1.1, 2.9], [345.5, 2, 3.7],
  [350, 0.9, 2.4], [354, 1.7, 4.1], [358.5, 0.9, 3.2], [363, 2, 5.6], [367, 1, 3.3], [371.5, 1.8, 2.6],
  [376, 0.8, 3.5], [380.5, 1.9, 3.1], [385.5, 1.1, 5.3], [390.5, 2.2, 3.2], [395, 0.9, 4.5],
  [399.5, 1.8, 2.6], [404, 1, 3.2], [408, 2.1, 4.1], [412, 1, 2.6], [416, 2.2, 3.8], [420, 0.9, 5.6],
  [427.5, 2, 4.2], [435, 1.2, 3.1], [439, 2.1, 5.4], [446, 1, 3.1], [450, 1.9, 4.6], [454, 0.8, 2.4],
  [458, 1.8, 3.6], [462.5, 1, 3.1], [467.5, 2, 4.3], [472.5, 0.9, 2.4], [477.5, 1.8, 3.4],
  [482.5, 1.1, 2.6], [487.5, 2, 3.4], [492.5, 0.9, 1.8], [497.5, 1.6, 3.6]
];
const bdrFloor = [[0, 0.25], [1000, 0.25]];

const colsToPoints = (cols) => cols.flatMap(([x, ...ys]) => ys.map(y => ({ x, y })));
const pairsToPoints = (pairs) => pairs.map(([x, y]) => ({ x, y }));

const tickFont = { family: "'Liberation Sans Narrow', 'DejaVu Sans Condensed', 'Liberation Sans', sans-serif", size: 42 };
const BOLD = "'Liberation Sans', Arial, sans-serif";

// marker images: the Mathematica dots are slightly wider than tall
function markerImage(w, h, color, shape) {
  const c = document.createElement('canvas');
  c.width = w;
  c.height = h;
  const g = c.getContext('2d');
  g.fillStyle = color;
  if (shape === 'rect') {
    g.fillRect(0, 0, w, h);
  } else {
    g.beginPath();
    g.ellipse(w / 2, h / 2, w / 2, h / 2, 0, 0, Math.PI * 2);
    g.fill();
  }
  return c;
}
const blueDot = markerImage(16, 13, '#0000ff', 'ellipse');
const redDot = markerImage(9, 9, '#ff0000', 'ellipse');
const greenDot = markerImage(12, 9, '#00ff00', 'rect');

function drawRuns(ctx, x, y, runs, color) {
  ctx.fillStyle = color;
  ctx.textAlign = 'left';
  ctx.textBaseline = 'alphabetic';
  for (const r of runs) {
    ctx.font = `bold ${r.size}px ${BOLD}`;
    ctx.fillText(r.t, x, y + (r.dy || 0));
    x += ctx.measureText(r.t).width;
  }
}

const framePlugin = {
  id: 'frame',
  afterDatasetsDraw(chart) {
    const { ctx, chartArea: a, scales: { x, y } } = chart;
    ctx.save();
    ctx.strokeStyle = '#666';
    ctx.lineWidth = 3;
    ctx.beginPath();
    ctx.moveTo(a.left, a.top);
    ctx.lineTo(a.left, a.bottom);
    ctx.lineTo(a.right, a.bottom);
    ctx.lineTo(a.right, a.top);
    for (let v = 5; v <= 130; v += 5) {
      const py = y.getPixelForValue(v);
      const len = v % 20 === 0 ? 14 : 8;
      ctx.moveTo(a.left, py); ctx.lineTo(a.left + len, py);
      ctx.moveTo(a.right, py); ctx.lineTo(a.right - len, py);
    }
    for (let v = 50; v < 1000; v += 50) {
      const px = x.getPixelForValue(v);
      const len = v % 200 === 0 ? 12 : 6;
      ctx.moveTo(px, a.bottom); ctx.lineTo(px, a.bottom - len);
    }
    ctx.stroke();
    ctx.restore();
  }
};

const labelPlugin = {
  id: 'labels',
  afterDraw(chart) {
    const { ctx } = chart;
    ctx.save();
    drawRuns(ctx, 171, 118, [
      { t: 'E', size: 68 }, { t: 'acc', size: 51, dy: 14 }, { t: '*(T', size: 68 },
      { t: 'p', size: 51, dy: 14 }, { t: '/252)', size: 68 }, { t: '1/6', size: 38, dy: -21 }
    ], '#0000f0');
    drawRuns(ctx, 752, 843, [
      { t: 'T', size: 64 }, { t: 'p', size: 46, dy: 13 }, { t: '/10', size: 64 }
    ], '#00e600');
    drawRuns(ctx, 1803, 859, [{ t: '#ACC-BD/100', size: 64 }], '#00ffff');
    drawRuns(ctx, 1836, 950, [{ t: '#1stP-BD/100', size: 66 }], '#ff66ff');
    drawRuns(ctx, 1763, 1058, [{ t: 'BDR (#ACC/hr/str.)*5', size: 64 }], '#ff0000');

    ctx.fillStyle = '#8c8c8c';
    ctx.textAlign = 'left';
    ctx.font = `33px ${BOLD}`;
    ctx.fillText('2019/1/21', 66, 1185);
    ctx.fillText('22', 2210, 1185);
    ctx.font = `28px ${BOLD}`;
    ctx.fillText('CLIC2019 High gradient update at KEK (Higo)', 869, 1184);

    ctx.fillStyle = '#000';
    ctx.textAlign = 'center';
    ctx.font = `bold 48px ${BOLD}`;
    ctx.fillText('Number of pulses (Mega pulse)', 1077, 1180);
    ctx.restore();
  }
};

const lineDs = (data, color, width) => ({
  data, showLine: true, borderColor: color, backgroundColor: color,
  borderWidth: width, pointRadius: 0, fill: false, tension: 0
});
const dotDs = (data, img) => ({
  data, showLine: false, pointStyle: img, pointRadius: 6, borderWidth: 0
});

new Chart('myChart', {
  type: 'scatter',
  data: {
    datasets: [
      dotDs(colsToPoints([...bdrCols, ...bdrLowCols]), redDot),
      lineDs(pairsToPoints(bdrFloor), '#ff0000', 4),
      dotDs(colsToPoints(tpCols), greenDot),
      ...tpBand.map(([x0, x1, y]) => lineDs([{ x: x0, y }, { x: x1, y }], '#00ff00', 9)),
      dotDs(colsToPoints([...eaccCols1, ...eaccCols2, ...eaccCols3, ...eaccCols4]), blueDot),
      lineDs(pairsToPoints(firstPBD), '#ff00ff', 11),
      lineDs(pairsToPoints(accBD), '#00ffff', 11)
    ]
  },
  options: {
    responsive: false,
    animation: false,
    devicePixelRatio: 1,
    layout: { padding: { left: 0, right: 507, top: 8, bottom: 0 } },
    plugins: { legend: { display: false }, tooltip: { enabled: false } },
    scales: {
      x: {
        type: 'linear', min: 0, max: 1000,
        ticks: { stepSize: 200, color: '#6e6e6e', font: tickFont, padding: 8, maxRotation: 0, callback: (v) => String(v) },
        grid: { color: '#c8c8c8', lineWidth: 3, drawTicks: false },
        border: { display: false },
        afterFit: (s) => { s.height = 102; s.paddingLeft = 0; s.paddingRight = 0; }
      },
      y: {
        min: 0, max: 135,
        ticks: { stepSize: 20, color: '#6e6e6e', font: tickFont, padding: 12, callback: (v) => String(v) },
        grid: { color: '#c8c8c8', lineWidth: 3, drawTicks: false },
        border: { display: false },
        afterBuildTicks: (s) => { s.ticks = s.ticks.filter(t => t.value % 20 === 0); },
        afterFit: (s) => { s.width = 85; s.paddingTop = 0; s.paddingBottom = 0; }
      }
    }
  },
  plugins: [framePlugin, labelPlugin]
});
</script>
</body>
</html>
